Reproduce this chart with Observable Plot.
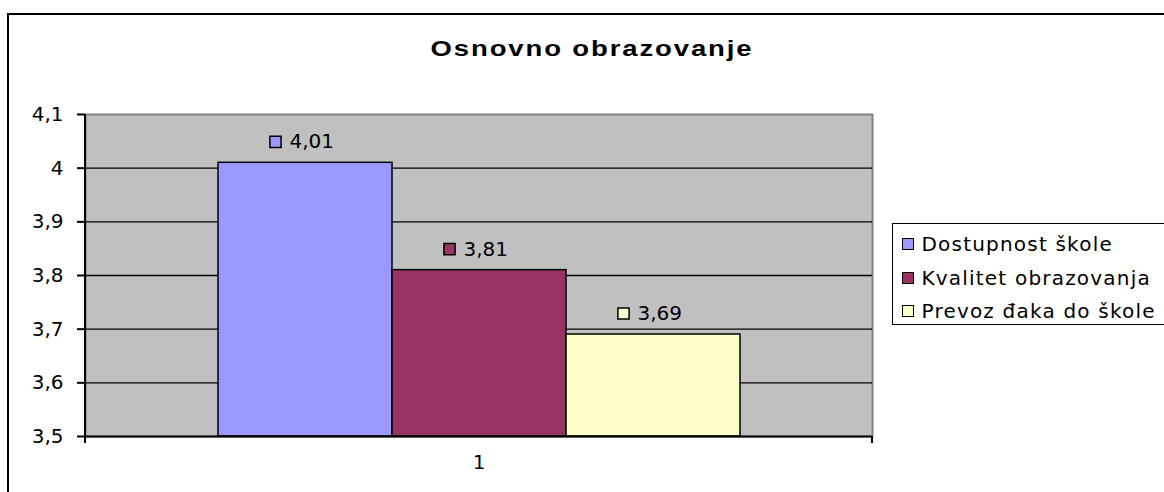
<!DOCTYPE html>
<html><head><meta charset="utf-8">
<script src="https://cdn.jsdelivr.net/npm/d3@7"></script>
<script src="https://cdn.jsdelivr.net/npm/@observablehq/plot@0.6"></script>
<style>
body{margin:0;background:#fff;font-family:"DejaVu Sans",Arial,sans-serif;}
#wrap{position:relative;width:1164px;height:492px;overflow:hidden;background:#fff;}
#frame{position:absolute;left:7px;top:13px;width:1300px;height:600px;border:2px solid #000;pointer-events:none;}
#title{position:absolute;left:592px;top:49px;font-family:"Liberation Sans",Arial,sans-serif;font-weight:bold;font-size:22px;letter-spacing:1.5px;white-space:nowrap;transform:translate(-50%,-50%) scaleX(1.25);color:#000;}
#legend{position:absolute;left:892px;top:223px;width:275px;height:100px;border:1.5px solid #000;background:#fff;}
.row{position:absolute;left:8.5px;height:22px;transform:translateY(-50%);display:flex;align-items:center;white-space:nowrap;}
.sw{width:10px;height:10px;border:1.5px solid #000;flex:none;}
.lt{font-size:20px;letter-spacing:1.2px;margin-left:8px;}
#chart svg{position:absolute;left:0;top:0;}
</style>
</head><body>
<div id="wrap"><div id="chart"></div><div id="title"></div><div id="legend"></div><div id="frame"></div></div>
<script>
const titleText = "Osnovno obrazovanje";
const categories = ["1"];
const series = ["Dostupnost škole", "Kvalitet obrazovanja", "Prevoz đaka do škole"];
const values = [4.01, 3.81, 3.69];
const colors = ["#9999FF", "#993366", "#FFFFCC"];
const yTicks = [3.5, 3.6, 3.7, 3.8, 3.9, 4.0, 4.1];

const data = series.map((s, i) => ({series: s, value: values[i], category: categories[0]}));
const yMin = yTicks[0], yMax = yTicks[yTicks.length - 1];
const comma = d => String(Math.round(d * 100) / 100).replace(".", ",");
const fmt2 = d => d.toFixed(2).replace(".", ",");

const edges = (index, scales, vals, dim) => {
  const g = d3.create("svg:g");
  const l = dim.marginLeft, r = dim.width - dim.marginRight, t = dim.marginTop, b = dim.height - dim.marginBottom;
  g.append("line").attr("x1", l).attr("x2", l).attr("y1", t).attr("y2", b + 7).attr("stroke", "#000").attr("stroke-width", 2);
  g.append("line").attr("x1", r).attr("x2", r).attr("y1", b).attr("y2", b + 7).attr("stroke", "#000").attr("stroke-width", 2);
  return g.node();
};

const plot = Plot.plot({
  width: 1164,
  height: 492,
  marginLeft: 85,
  marginRight: 292,
  marginTop: 114,
  marginBottom: 56,
  style: {fontFamily: '"DejaVu Sans", Arial, sans-serif', fontSize: "20px", background: "transparent", color: "#000"},
  x: {domain: series, paddingInner: 0, paddingOuter: 0.75, axis: null},
  y: {domain: [yMin, yMax], ticks: yTicks, tickFormat: comma, tickSize: 8, tickPadding: 14, label: null},
  color: {domain: series, range: colors},
  marks: [
    Plot.frame({fill: "#C0C0C0", stroke: "#808080", strokeWidth: 2}),
    Plot.ruleY(yTicks.slice(1, -1), {stroke: "#000", strokeWidth: 1.3}),
    Plot.barY(data, {x: "series", y1: () => yMin, y2: "value", fill: "series", stroke: "#000", strokeWidth: 1.5}),
    Plot.ruleY([yMin], {stroke: "#000", strokeWidth: 2}),
    edges,
    Plot.dot(data, {x: "series", y: "value", dy: -21, dx: -30, symbol: "square", r: 6.3, fill: "series", stroke: "#000", strokeWidth: 1.5}),
    Plot.text(data, {x: "series", y: "value", dy: -21, dx: -16, text: d => fmt2(d.value), textAnchor: "start", fontSize: 20, fill: "#000"}),
    Plot.text(categories, {frameAnchor: "bottom", dy: 32, text: d => d, fontSize: 20, fill: "#000"})
  ]
});
plot.querySelectorAll("g[aria-label='y-axis tick'] path, g[aria-label='y-axis tick'] line").forEach(p => p.setAttribute("stroke-width", 2));
document.getElementById("chart").appendChild(plot);

document.getElementById("title").textContent = titleText;
const legend = document.getElementById("legend");
const rowCenters = [20, 54, 87];
series.forEach((s, i) => {
  const row = document.createElement("div");
  row.className = "row";
  row.style.top = rowCenters[i] + "px";
  const sw = document.createElement("div");
  sw.className = "sw";
  sw.style.background = colors[i];
  const lt = document.createElement("span");
  lt.className = "lt";
  lt.textContent = s;
  row.appendChild(sw);
  row.appendChild(lt);
  legend.appendChild(row);
});
</script>
</body></html>
